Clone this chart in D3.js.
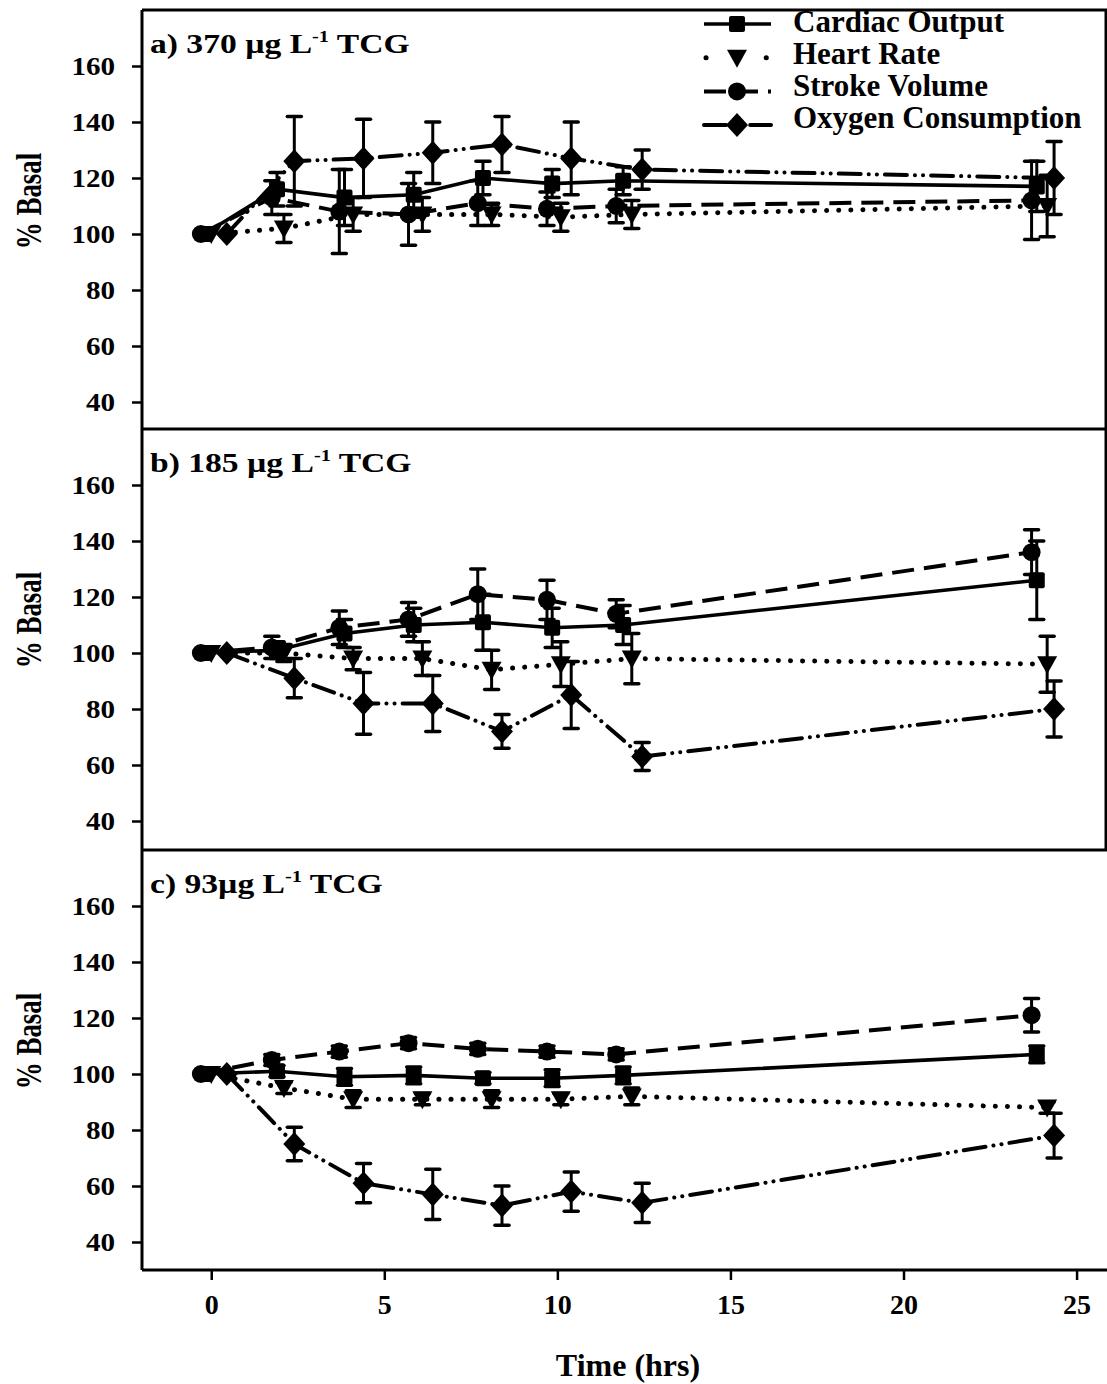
<!DOCTYPE html>
<html><head><meta charset="utf-8">
<script src="https://cdn.jsdelivr.net/npm/d3@7"></script>
<style>body{margin:0;background:#fff}svg{display:block}</style>
</head><body>
<svg id="chart" width="1107" height="1384"></svg>
<script>
// ---------- DATA ----------
const seriesNames = ["Cardiac Output", "Heart Rate", "Stroke Volume", "Oxygen Consumption"];
const panelLabelMain = ["a) 370 µg L", "b) 185 µg L", "c) 93µg L"];
const panelLabelSup = "-1";
const panelLabelTail = " TCG";
const yTicks = [40, 60, 80, 100, 120, 140, 160];
const xTicks = [0, 5, 10, 15, 20, 25];
const xLabel = "Time (hrs)";
const yLabel = "% Basal";

// sampling times (hrs), slightly offset per series as in the figure
const timeCO = [-0.2, 1.9, 3.85, 5.85, 7.85, 9.85, 11.9, 23.85];
const timeHR = [0, 2.1, 4.1, 6.1, 8.1, 10.1, 12.15, 24.15];
const timeSV = [-0.3, 1.75, 3.7, 5.7, 7.7, 9.7, 11.7, 23.7];
const timeO2 = [0.45, 2.4, 4.4, 6.4, 8.4, 10.4, 12.45, 24.35];

// panel a) 370 µg/L
const a_CO = [100, 116, 113, 114, 120, 118, 119, 117];
const a_CO_err = [0, 6, 10, 8, 6, 5, 5, 9];
const a_HR = [100, 102, 107, 107, 107, 106, 107, 110];
const a_HR_err = [0, 5, 6, 6, 4, 5, 5, 11];
const a_SV = [100, 113, 108, 107, 111, 109, 110, 112];
const a_SV_err = [0, 6, 15, 11, 8, 6, 6, 14];
const a_O2 = [100, 126, 127, 129, 132, 127, 123, 120];
const a_O2_err = [0, 16, 14, 11, 10, 13, 7, 13];

// panel b) 185 µg/L
const b_CO = [100, 101, 107, 110, 111, 109, 110, 126];
const b_CO_err = [0, 3, 5, 6, 10, 7, 7, 14];
const b_HR = [100, 100, 98, 98, 94, 96, 98, 96];
const b_HR_err = [0, 3, 4, 6, 7, 8, 9, 10];
const b_SV = [100, 102, 109, 112, 121, 119, 114, 136];
const b_SV_err = [0, 4, 6, 6, 9, 7, 5, 8];
const b_O2 = [100, 91, 82, 82, 72, 85, 63, 80];
const b_O2_err = [0, 7, 11, 10, 6, 12, 5, 10];

// panel c) 93 µg/L
const c_CO = [100, 101, 99, 99.5, 98.5, 98.5, 99.5, 107];
const c_CO_err = [0, 2, 3, 3, 2, 3, 3, 3];
const c_HR = [100, 95, 91, 91, 91, 91, 92, 88];
const c_HR_err = [0, 2, 3, 2, 3, 2, 3, 2];
const c_SV = [100, 105, 108, 111, 109, 108, 107, 121];
const c_SV_err = [0, 2, 2, 2, 2, 2, 2, 6];
const c_O2 = [100, 75, 61, 57, 53, 58, 54, 78];
const c_O2_err = [0, 6, 7, 9, 7, 7, 7, 8];

// ---------- BUILD ----------
const times = [timeCO, timeHR, timeSV, timeO2];
const panels = [
  [[a_CO, a_CO_err], [a_HR, a_HR_err], [a_SV, a_SV_err], [a_O2, a_O2_err]],
  [[b_CO, b_CO_err], [b_HR, b_HR_err], [b_SV, b_SV_err], [b_O2, b_O2_err]],
  [[c_CO, c_CO_err], [c_HR, c_HR_err], [c_SV, c_SV_err], [c_O2, c_O2_err]]
];

const font = "'Liberation Serif','Times New Roman',serif";
const svg = d3.select("#chart");
const x = d3.scaleLinear().domain([-2, 25.85]).range([142, 1106]);
const panelTop = [10, 429, 850];
const panelH = 420;
const X0 = x.range()[0], X1 = x.range()[1];

const styles = [
  {dash: null, width: 3.6, cap: "butt"},
  {dash: "0.1,12", width: 5, cap: "round"},
  {dash: "22,10", width: 4, cap: "butt"},
  {dash: "22,8,0.1,8,0.1,8", width: 4, cap: "round"}
];

function drawMarker(sel, k) {
  if (k === 0) sel.append("rect").attr("x", -8).attr("y", -8).attr("width", 16).attr("height", 16).attr("rx", 2);
  else if (k === 1) sel.append("path").attr("d", "M-10,-8L10,-8L0,10Z");
  else if (k === 2) sel.append("circle").attr("r", 9);
  else sel.append("path").attr("d", "M0,-12L11,0L0,12L-11,0Z");
  sel.attr("fill", "#000");
}

panels.forEach((series, i) => {
  const top = panelTop[i];
  const y = d3.scaleLinear().domain([30, 180]).range([top + panelH, top]);
  const g = svg.append("g");

  // y axis ticks
  const ax = g.append("g").attr("transform", `translate(${X0},0)`)
    .call(d3.axisLeft(y).tickValues(yTicks).tickSize(10).tickPadding(14).tickFormat(d3.format("d")));
  ax.select(".domain").remove();
  ax.selectAll("line").attr("stroke", "#000").attr("stroke-width", 2.5);
  ax.selectAll("text").attr("font-family", font).attr("font-size", 26)
    .attr("font-weight", "bold").attr("fill", "#000").attr("transform", "scale(1.12,1)");

  // y label
  g.append("text").attr("transform", `translate(41,${top + 191}) rotate(-90) scale(1,1.3)`)
    .attr("text-anchor", "middle").attr("font-family", font).attr("font-size", 27)
    .attr("font-weight", "bold").text(yLabel);

  // panel label
  const pl = g.append("text").attr("transform", `translate(150,${top + 43}) scale(1.2,1)`)
    .attr("font-family", font).attr("font-size", 28).attr("font-weight", "bold");
  pl.append("tspan").text(panelLabelMain[i]);
  pl.append("tspan").attr("dy", -11).attr("font-size", 17).text(panelLabelSup);
  pl.append("tspan").attr("dy", 11).attr("font-size", 28).text(panelLabelTail);

  // series
  series.forEach((s, k) => {
    const pts = times[k].map((t, j) => ({t, v: s[0][j], e: s[1][j]}));
    const st = styles[k];
    g.append("path").datum(pts)
      .attr("d", d3.line().x(d => x(d.t)).y(d => y(d.v)))
      .attr("fill", "none").attr("stroke", "#000").attr("stroke-width", st.width)
      .attr("stroke-dasharray", st.dash).attr("stroke-linecap", st.cap);
    const eb = g.append("g").selectAll("g").data(pts.filter(d => d.e > 0)).join("g");
    eb.append("line").attr("x1", d => x(d.t)).attr("x2", d => x(d.t))
      .attr("y1", d => y(d.v - d.e)).attr("y2", d => y(d.v + d.e))
      .attr("stroke", "#000").attr("stroke-width", 3);
    [-1, 1].forEach(sg => {
      eb.append("line").attr("x1", d => x(d.t) - 7).attr("x2", d => x(d.t) + 7)
        .attr("y1", d => y(d.v + sg * d.e)).attr("y2", d => y(d.v + sg * d.e))
        .attr("stroke", "#000").attr("stroke-width", 3.5).attr("stroke-linecap", "round");
    });
  });
  series.forEach((s, k) => {
    const pts = times[k].map((t, j) => ({t, v: s[0][j]}));
    g.append("g").selectAll("g").data(pts).join("g")
      .attr("transform", d => `translate(${x(d.t)},${y(d.v)})`)
      .each(function () { drawMarker(d3.select(this), k); });
  });
});

// legend (panel a)
const lg = svg.append("g");
seriesNames.forEach((name, k) => {
  const sy = 24 + k * 33.7;
  const st = styles[k];
  lg.append("line").attr("x1", 704).attr("x2", 771).attr("y1", sy).attr("y2", sy)
    .attr("stroke", "#000").attr("stroke-width", st.width)
    .attr("stroke-dasharray", k === 1 ? "0.1,30" : st.dash).attr("stroke-dashoffset", k === 1 ? -2 : 0)
    .attr("stroke-linecap", st.cap);
  const m = lg.append("g").attr("transform", `translate(737,${sy})`);
  drawMarker(m, k);
  lg.append("text").attr("x", 793).attr("y", 32 + k * 32)
    .attr("font-family", font).attr("font-size", 31).attr("font-weight", "bold").text(name);
});

// frames
const frame = svg.append("g").attr("stroke", "#000").attr("stroke-width", 3).attr("fill", "none");
frame.append("line").attr("x1", X0).attr("x2", X0).attr("y1", panelTop[0]).attr("y2", panelTop[2] + panelH);
panelTop.forEach(t => frame.append("line").attr("x1", X0).attr("x2", 1107).attr("y1", t).attr("y2", t));
frame.append("line").attr("x1", X0).attr("x2", 1107).attr("y1", panelTop[2] + panelH).attr("y2", panelTop[2] + panelH);
frame.append("line").attr("x1", X1).attr("x2", X1).attr("y1", panelTop[0]).attr("y2", panelTop[2]);

// x axis
const xa = svg.append("g").attr("transform", `translate(0,${panelTop[2] + panelH})`)
  .call(d3.axisBottom(x).tickValues(xTicks).tickSize(10).tickPadding(14).tickFormat(d3.format("d")));
xa.select(".domain").remove();
xa.selectAll("line").attr("stroke", "#000").attr("stroke-width", 2.5);
xa.selectAll("text").attr("font-family", font).attr("font-size", 28).attr("font-weight", "bold").attr("fill", "#000");

svg.append("text").attr("x", 628).attr("y", 1376).attr("text-anchor", "middle")
  .attr("font-family", font).attr("font-size", 32).attr("font-weight", "bold").text(xLabel);
</script>
</body></html>
